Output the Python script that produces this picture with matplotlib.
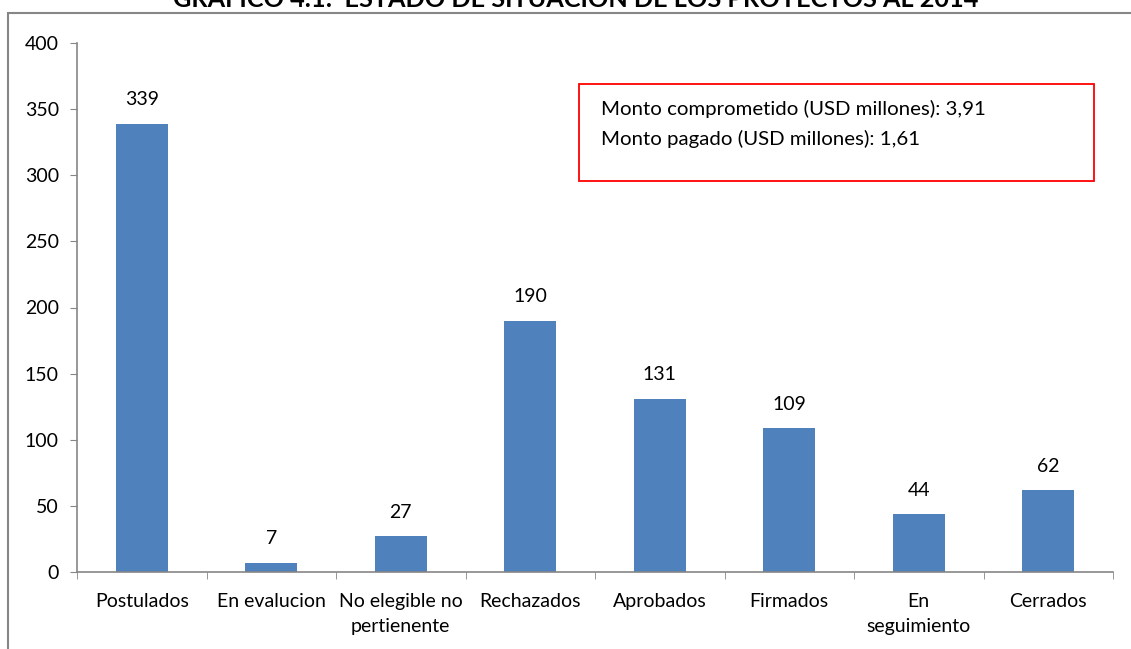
import matplotlib
matplotlib.use("Agg")
import matplotlib.pyplot as plt
from matplotlib.patches import Rectangle

categories = ["Postulados", "En evalucion", "No elegible no\npertienente", "Rechazados",
              "Aprobados", "Firmados", "En\nseguimiento", "Cerrados"]
values = [339, 7, 27, 190, 131, 109, 44, 62]
yticks = [0, 50, 100, 150, 200, 250, 300, 350, 400]
title = "GRAFICO 4.1:  ESTADO DE SITUACION DE LOS PROYECTOS AL 2014"
note_lines = ["Monto comprometido (USD millones): 3,91", "Monto pagado (USD millones): 1,61"]

plt.rcParams['font.family'] = ['Lato', 'DejaVu Sans']
W, H = 1131, 649
fig = plt.figure(figsize=(W / 100, H / 100), dpi=100)
ax = fig.add_axes([77 / W, 1 - 572 / H, (1113 - 77) / W, (572 - 43) / H])

bar_color = "#4F81BD"
axis_color = "#868686"
fs = 14
x = range(len(categories))
ax.bar(x, values, width=0.4, color=bar_color, zorder=2)
for xi, v in zip(x, values):
    ax.annotate(str(v), (xi, v), xytext=(0, 11), textcoords="offset points",
                ha="center", va="bottom", fontsize=fs)

ax.set_xlim(-0.5, len(categories) - 0.5)
ax.set_ylim(0, 400)
ax.set_yticks(yticks)
ax.set_yticklabels([str(t) for t in yticks], fontsize=fs)
ax.set_xticks(list(x))
ax.set_xticklabels(categories, fontsize=fs, linespacing=1.55)
ax.tick_params(axis="x", length=0, pad=15)
ax.set_xticks([i - 0.5 for i in range(len(categories) + 1)], minor=True)
ax.tick_params(axis="x", which="minor", length=5, color=axis_color, direction="out")
ax.tick_params(axis="y", length=5, color=axis_color, direction="out", pad=8)
for s in ["top", "right"]:
    ax.spines[s].set_visible(False)
for s in ["left", "bottom"]:
    ax.spines[s].set_color(axis_color)
    ax.spines[s].set_linewidth(1.2)

# outer chart border
fig.patches.append(Rectangle((8 / W, -0.5), 2, 1 - 13 / H + 0.5, transform=fig.transFigure,
                             fill=False, edgecolor=axis_color, linewidth=1.5))
# title (cut off at the top, as in the reference)
fig.text(576 / W, 1 - 7 / H, title, ha="center", va="baseline", fontsize=18.2,
         fontweight="bold")

# note box
fig.patches.append(Rectangle((579 / W, 1 - 181 / H), (1094 - 579) / W, (181 - 84) / H,
                             transform=fig.transFigure, fill=False, edgecolor="red",
                             linewidth=1.3))
for i, line in enumerate(note_lines):
    fig.text(601 / W, 1 - (109 + 30 * i) / H, line, ha="left", va="center", fontsize=14.7)

fig.savefig("out.png", dpi=100)
